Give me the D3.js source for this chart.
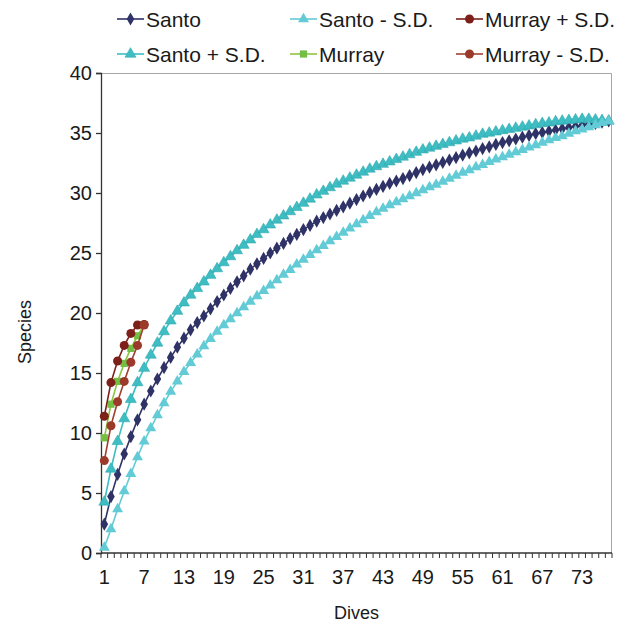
<!DOCTYPE html>
<html>
<head>
<meta charset="utf-8">
<script src="https://cdn.jsdelivr.net/npm/d3@7"></script>
<style>
  body { margin: 0; background: #fff; }
  svg text { font-family: "Liberation Sans", Arial, sans-serif; fill: #1a1a1a; }
</style>
</head>
<body>
<div id="chart"></div>
<script>
// dives 1..77 for santo, 1..7 for murray
const santo = [2.4, 4.7, 6.55, 8.25, 9.7, 11.1, 12.4, 13.5, 14.5, 15.45, 16.3, 17.15,
  17.9, 18.6, 19.2, 19.75, 20.35, 20.95, 21.5, 22.05, 22.6, 23.1, 23.65, 24.1, 24.55,
  25.0, 25.4, 25.8, 26.2, 26.55, 26.95, 27.3, 27.65, 27.95, 28.25, 28.55, 28.85, 29.15,
  29.45, 29.75, 30.05, 30.3, 30.55, 30.8, 31.0, 31.2, 31.45, 31.7, 31.95, 32.15, 32.35,
  32.55, 32.75, 32.95, 33.15, 33.35, 33.5, 33.7, 33.85, 34.05, 34.2, 34.35, 34.5, 34.65,
  34.8, 34.95, 35.05, 35.15, 35.25, 35.35, 35.45, 35.55, 35.65, 35.75, 35.8, 35.9, 36.0];
const santoPlus = [4.25, 7.0, 9.3, 11.2, 12.8, 14.2, 15.4, 16.5, 17.5, 18.45, 19.35, 20.15,
  20.85, 21.5, 22.05, 22.6, 23.15, 23.7, 24.2, 24.7, 25.2, 25.65, 26.1, 26.55, 26.95,
  27.35, 27.75, 28.1, 28.45, 28.8, 29.15, 29.5, 29.85, 30.15, 30.45, 30.75, 31.0, 31.25,
  31.5, 31.75, 32.0, 32.2, 32.4, 32.6, 32.8, 33.0, 33.2, 33.4, 33.6, 33.75, 33.9, 34.05,
  34.2, 34.35, 34.5, 34.6, 34.75, 34.9, 35.0, 35.1, 35.2, 35.3, 35.4, 35.5, 35.6, 35.7,
  35.8, 35.85, 35.95, 36.0, 36.05, 36.1, 36.15, 36.15, 36.1, 36.05, 36.0];
const santoMinus = [0.45, 2.0, 3.65, 5.15, 6.6, 8.0, 9.3, 10.4, 11.5, 12.5, 13.45, 14.3,
  15.1, 15.85, 16.55, 17.25, 17.85, 18.45, 19.0, 19.5, 20.0, 20.5, 20.95, 21.4, 21.85,
  22.3, 22.75, 23.2, 23.6, 24.05, 24.45, 24.85, 25.25, 25.6, 26.0, 26.35, 26.7, 27.05,
  27.4, 27.75, 28.1, 28.4, 28.7, 29.0, 29.25, 29.5, 29.75, 30.0, 30.25, 30.5, 30.7,
  30.95, 31.2, 31.45, 31.7, 31.9, 32.15, 32.35, 32.6, 32.8, 33.0, 33.2, 33.4, 33.6, 33.8,
  34.0, 34.2, 34.4, 34.6, 34.75, 34.95, 35.15, 35.3, 35.5, 35.65, 35.85, 36.0];
const murray = [9.6, 12.4, 14.3, 15.8, 17.05, 18.1, 19.0];
const murrayPlus = [11.4, 14.2, 16.0, 17.3, 18.3, 19.0, 19.05];
const murrayMinus = [7.7, 10.6, 12.6, 14.3, 15.9, 17.3, 19.0];

const dives = d3.range(1, santo.length + 1);
const xLabels = d3.range(1, 74, 6);
const yTicks = d3.range(0, 41, 5);

const series = [
  {name: 'Santo', values: santo, line: '#2f3266', fill: '#2f3266', symbol: d3.symbolDiamond, size: 50},
  {name: 'Santo + S.D.', values: santoPlus, line: '#3ebdc3', fill: '#3ebdc3', stroke: '#2fa9b0', symbol: d3.symbolTriangle, size: 52},
  {name: 'Santo - S.D.', values: santoMinus, line: '#62cbd6', fill: '#62cbd6', symbol: d3.symbolTriangle, size: 52},
  {name: 'Murray', values: murray, line: '#8cc63f', fill: '#72bf44', symbol: d3.symbolSquare, size: 52},
  {name: 'Murray + S.D.', values: murrayPlus, line: '#7d2019', fill: '#7d2019', symbol: d3.symbolCircle, size: 64},
  {name: 'Murray - S.D.', values: murrayMinus, line: '#a0402e', fill: '#9b3a2a', symbol: d3.symbolCircle, size: 64}
];

const width = 624;
const height = 623;
const margin = {top: 73, right: 12, bottom: 70, left: 101};
const innerW = width - margin.left - margin.right;
const innerH = height - margin.top - margin.bottom;

const svg = d3.select('#chart')
              .append('svg')
              .attr('width', width)
              .attr('height', height);

const g = svg.append('g')
             .attr('transform', `translate(${margin.left}, ${margin.top})`);

// category axis, points between tick marks
const xScale = d3.scaleBand()
                 .domain(dives)
                 .range([0, innerW]);
const xPos = d => xScale(d) + xScale.bandwidth() / 2;

const yScale = d3.scaleLinear()
                 .domain([0, 40])
                 .range([innerH, 0]);

// plot border (top and right)
g.append('path')
 .attr('d', `M0.5,0.5H${innerW - 0.5}V${innerH}`)
 .attr('fill', 'none')
 .attr('stroke', '#a6a6a6')
 .attr('stroke-width', 1);

// y axis
const yAxis = g.append('g')
               .call(d3.axisLeft(yScale).tickValues(yTicks).tickSize(5).tickPadding(4));
yAxis.select('.domain').attr('stroke', '#333').attr('stroke-width', 1.3);
yAxis.selectAll('.tick line').attr('stroke', '#333').attr('stroke-width', 1.3);
yAxis.selectAll('text').style('font-size', '20px').attr('fill', '#1a1a1a');

// x axis: one tick per category boundary
const xAxis = g.append('g')
               .attr('transform', `translate(0, ${innerH})`);
xAxis.append('line')
     .attr('x1', 0)
     .attr('x2', innerW)
     .attr('stroke', '#333')
     .attr('stroke-width', 1.3);
xAxis.selectAll('.xtick')
     .data(d3.range(0, dives.length + 1))
     .join('line')
     .attr('class', 'xtick')
     .attr('x1', i => i * xScale.step())
     .attr('x2', i => i * xScale.step())
     .attr('y1', 0)
     .attr('y2', 5)
     .attr('stroke', '#333')
     .attr('stroke-width', 1);
xAxis.selectAll('.xlabel')
     .data(xLabels)
     .join('text')
     .attr('class', 'xlabel')
     .attr('x', d => xPos(d))
     .attr('y', 31)
     .attr('text-anchor', 'middle')
     .style('font-size', '20px')
     .text(d => d);

// axis titles
svg.append('text')
   .attr('x', margin.left + innerW / 2)
   .attr('y', 619)
   .attr('text-anchor', 'middle')
   .style('font-size', '18px')
   .text('Dives');

svg.append('text')
   .attr('transform', 'translate(31, 332) rotate(-90)')
   .attr('text-anchor', 'middle')
   .style('font-size', '18px')
   .text('Species');

// data lines and markers
const line = d3.line()
               .x((d, i) => xPos(i + 1))
               .y(d => yScale(d));

series.forEach(s => {
  g.append('path')
   .datum(s.values)
   .attr('fill', 'none')
   .attr('stroke', s.line)
   .attr('stroke-width', 1.6)
   .attr('d', line);

  g.append('g')
   .selectAll('path')
   .data(s.values)
   .join('path')
   .attr('transform', (d, i) => `translate(${xPos(i + 1)}, ${yScale(d)})`)
   .attr('d', d3.symbol().type(s.symbol).size(s.size))
   .attr('fill', s.fill)
   .attr('stroke', s.stroke || 'none')
   .attr('stroke-width', 0.6);
});

// legend, laid out in three columns of two rows
const legendPos = [
  {x: 117, y: 19}, {x: 117, y: 54},
  {x: 290, y: 19}, {x: 290, y: 54},
  {x: 456, y: 19}, {x: 456, y: 54}
];
const order = ['Santo', 'Santo + S.D.', 'Santo - S.D.', 'Murray', 'Murray + S.D.', 'Murray - S.D.'];

order.forEach((name, k) => {
  const s = series.find(d => d.name === name);
  const p = legendPos[k];
  const lg = svg.append('g')
                .attr('transform', `translate(${p.x}, ${p.y})`);
  lg.append('line')
    .attr('x1', 0)
    .attr('x2', 27)
    .attr('stroke', s.line)
    .attr('stroke-width', 1.6);
  lg.append('path')
    .attr('transform', 'translate(13.5, 0)')
    .attr('d', d3.symbol().type(s.symbol).size(s.size))
    .attr('fill', s.fill)
    .attr('stroke', s.stroke || 'none')
    .attr('stroke-width', 0.6);
  lg.append('text')
    .attr('x', 29)
    .attr('y', 7.5)
    .style('font-size', '21px')
    .text(s.name);
});
</script>
</body>
</html>
